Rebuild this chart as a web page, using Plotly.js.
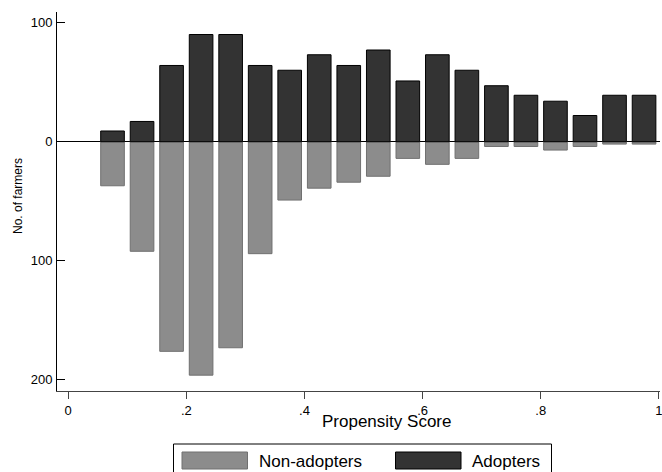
<!DOCTYPE html>
<html>
<head>
<meta charset="utf-8">
<script src="https://cdn.plot.ly/plotly-3.0.1.min.js"></script>
<style>html,body{margin:0;padding:0;background:#fff;}#chart{width:662px;height:472px;}</style>
</head>
<body>
<div id="chart"></div>
<script>
// Bin centres of the propensity score histogram
var binCenters = [0.075,0.125,0.175,0.225,0.275,0.325,0.375,0.425,0.475,0.525,0.575,0.625,0.675,0.725,0.775,0.825,0.875,0.925,0.975];
// Number of adopters per bin (drawn above zero)
var adopters = [9,17,64,90,90,64,60,73,64,77,51,73,60,47,39,34,22,39,39];
// Number of non-adopters per bin (drawn below zero)
var nonAdopters = [37,92,176,196,173,94,49,39,34,29,14,19,14,4,4,7,4,2,2];
// Tick labels
var yTickVals = [-200,-100,0,100];
var yTickText = ['200','100','0','100'];
var xTickVals = [0,0.2,0.4,0.6,0.8,1];
var xTickText = ['0','.2','.4','.6','.8','1'];
var seriesNames = ['Non-adopters','Adopters'];

var W = 662, H = 472;
var mL = 57, mR = 2, mT = 12, mB = 81;
var pw = W - mL - mR, ph = H - mT - mB;
function px(x){ return (x - mL) / pw; }
function py(y){ return (H - mB - y) / ph; }

var FONT = 'Liberation Sans, Arial, sans-serif';

var traces = [
  {
    type: 'bar', name: seriesNames[0], x: binCenters,
    y: nonAdopters.map(function(v){ return -v; }),
    width: 0.04,
    marker: {color: '#8c8c8c', line: {color: '#707070', width: 1}},
    showlegend: false, hoverinfo: 'skip'
  },
  {
    type: 'bar', name: seriesNames[1], x: binCenters, y: adopters,
    width: 0.04,
    marker: {color: '#333333', line: {color: '#000000', width: 1}},
    showlegend: false, hoverinfo: 'skip'
  }
];

var layout = {
  width: W, height: H,
  margin: {l: mL, r: mR, t: mT, b: mB, pad: 0},
  paper_bgcolor: '#ffffff', plot_bgcolor: '#ffffff',
  barmode: 'overlay',
  font: {family: FONT, color: '#000', size: 13},
  xaxis: {
    range: [-0.019, 1.002],
    tickvals: xTickVals, ticktext: xTickText,
    ticks: 'outside', ticklen: 7, tickcolor: '#444', tickwidth: 1,
    showline: true, linecolor: '#444', linewidth: 1,
    showgrid: false, zeroline: false,
    ticklabeloverflow: 'allow',
    tickfont: {family: FONT, size: 13, color: '#000'},
    fixedrange: true
  },
  yaxis: {
    range: [-209.3, 108.9],
    tickvals: yTickVals, ticktext: yTickText,
    ticks: 'inside', ticklen: 8, tickcolor: '#000', tickwidth: 1,
    showline: true, linecolor: '#000', linewidth: 1,
    showgrid: false,
    zeroline: true, zerolinecolor: '#000', zerolinewidth: 1.3,
    tickfont: {family: FONT, size: 13, color: '#000'},
    ticklabelstandoff: 1,
    fixedrange: true
  },
  shapes: [
    {type: 'rect', xref: 'paper', yref: 'paper', x0: px(173.5), x1: px(551.5), y0: py(444), y1: py(490),
     line: {color: '#000', width: 1}, fillcolor: '#fff', layer: 'above'},
    {type: 'rect', xref: 'paper', yref: 'paper', x0: px(182), x1: px(247.5), y0: py(452), y1: py(469),
     line: {color: '#707070', width: 1}, fillcolor: '#8c8c8c', layer: 'above'},
    {type: 'rect', xref: 'paper', yref: 'paper', x0: px(395.5), x1: px(461), y0: py(452), y1: py(469),
     line: {color: '#000', width: 1}, fillcolor: '#333333', layer: 'above'}
  ],
  annotations: [
    {text: 'Propensity Score', xref: 'paper', yref: 'paper', x: px(387), y: py(421),
     xanchor: 'center', yanchor: 'middle', showarrow: false, font: {family: FONT, size: 17, color: '#000'}},
    {text: 'No. of farmers', xref: 'paper', yref: 'paper', x: px(18), y: py(196),
     xanchor: 'center', yanchor: 'middle', textangle: -90, showarrow: false, font: {family: FONT, size: 12, color: '#000'}},
    {text: seriesNames[0], xref: 'paper', yref: 'paper', x: px(256.5), y: py(461),
     xanchor: 'left', yanchor: 'middle', showarrow: false, font: {family: FONT, size: 17, color: '#000'}},
    {text: seriesNames[1], xref: 'paper', yref: 'paper', x: px(470), y: py(461),
     xanchor: 'left', yanchor: 'middle', showarrow: false, font: {family: FONT, size: 17, color: '#000'}}
  ]
};

Plotly.newPlot('chart', traces, layout, {displayModeBar: false, staticPlot: true});
</script>
</body>
</html>
